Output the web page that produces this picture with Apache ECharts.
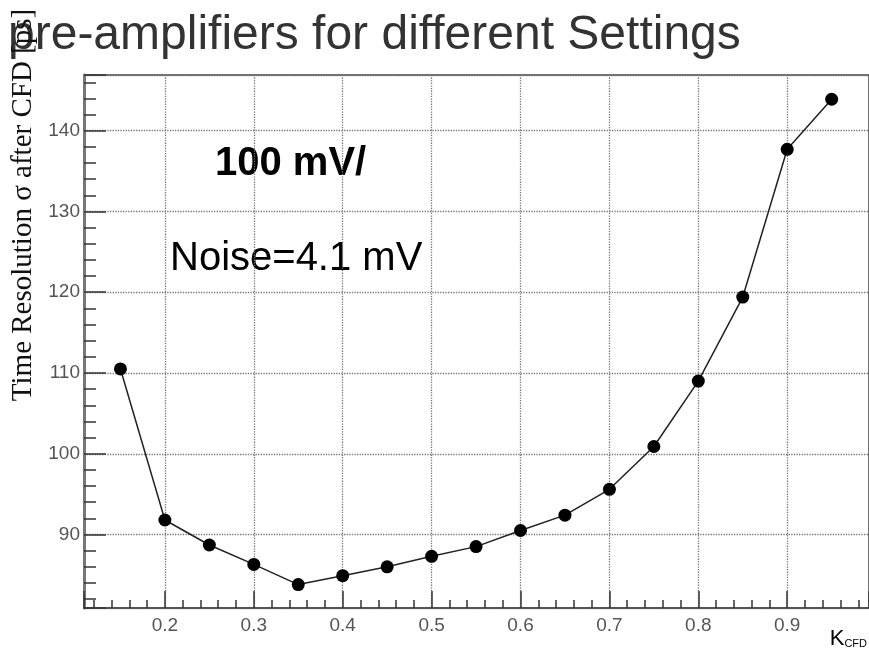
<!DOCTYPE html>
<html>
<head>
<meta charset="utf-8">
<script src="https://cdn.jsdelivr.net/npm/echarts@6/dist/echarts.min.js"></script>
<style>
html,body{margin:0;padding:0;background:#fff;}
#chart{width:869px;height:658px;}
</style>
</head>
<body>
<div id="chart"></div>
<script>
const kCfd = [0.15,0.2,0.25,0.3,0.35,0.4,0.45,0.5,0.55,0.6,0.65,0.7,0.75,0.8,0.85,0.9,0.95];
const resolution = [110.5,91.8,88.7,86.3,83.8,84.9,86.0,87.3,88.5,90.5,92.4,95.6,100.9,109.0,119.4,137.7,143.9];
const titleText = 'pre-amplifiers for different Settings';
const yTitle = 'Time Resolution σ after CFD [ps]';
const annot1 = '100 mV/';
const annot2 = 'Noise=4.1 mV';

const data = kCfd.map((k,i)=>[k,resolution[i]]);
const chart = echarts.init(document.getElementById('chart'), null, {renderer:'canvas'});
const labelFont = {fontFamily:'Liberation Sans', fontSize:19, color:'#555'};
chart.setOption({
  animation:false,
  backgroundColor:'#fff',
  grid:{left:84, right:-4, top:75, bottom:50, show:true, borderColor:'#444', borderWidth:1.5, backgroundColor:'transparent'},
  xAxis:{
    type:'value', min:0.109, max:0.992, splitNumber:9,
    axisLine:{show:true, onZero:false, lineStyle:{color:'#555', width:2}},
    axisTick:{show:true, inside:true, length:17, lineStyle:{color:'#333', width:1.5}},
    minorTick:{show:true, splitNumber:5, length:8, lineStyle:{color:'#333', width:1.5}},
    splitLine:{show:true, lineStyle:{type:'dotted', color:'#777', width:1.3}},
    axisLabel:Object.assign({margin:8, showMinLabel:false, showMaxLabel:false, formatter:v=>v.toFixed(1)}, labelFont)
  },
  yAxis:{
    type:'value', min:80.9, max:146.9, splitNumber:7,
    axisLine:{show:true, onZero:false, lineStyle:{color:'#777', width:3}},
    axisTick:{show:true, inside:true, length:22, lineStyle:{color:'#333', width:1.5}},
    minorTick:{show:true, splitNumber:5, length:12, lineStyle:{color:'#333', width:1.5}},
    splitLine:{show:true, lineStyle:{type:'dotted', color:'#777', width:1.3}},
    axisLabel:Object.assign({margin:4, showMinLabel:false, showMaxLabel:false}, labelFont)
  },
  series:[{
    type:'line', data:data, symbol:'circle', symbolSize:13,
    lineStyle:{color:'#222', width:1.5},
    itemStyle:{color:'#000'}
  }],
  graphic:[
    {type:'text', left:8, top:12, style:{text:titleText, font:'48px "Liberation Sans"', fill:'#333'}, z:100},
    {type:'text', x:23, y:205, rotation:Math.PI/2, style:{text:yTitle, font:'29px "Liberation Serif"', fill:'#111', textAlign:'center', textVerticalAlign:'middle'}, z:101},
    {type:'text', left:215, top:144, style:{text:annot1, font:'bold 40px "Liberation Sans"', fill:'#000'}},
    {type:'text', left:170, top:239, style:{text:annot2, font:'40px "Liberation Sans"', fill:'#000'}},
    {type:'text', right:2, top:628, style:{rich:{k:{fontFamily:'Liberation Sans', fontSize:22, color:'#444'}, s:{fontFamily:'Liberation Sans', fontSize:11, color:'#444', padding:[10,0,0,0]}}, text:'{k|K}{s|CFD}'}}
  ]
});
</script>
</body>
</html>
